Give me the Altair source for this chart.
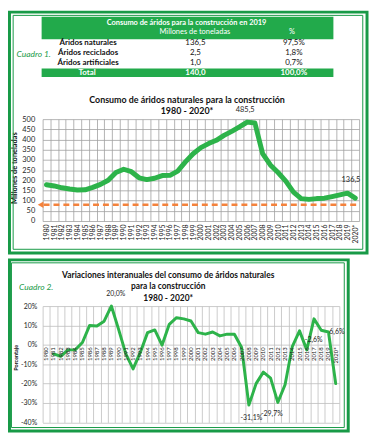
import altair as alt
import pandas as pd

# ---------------- data ----------------
anios = [str(a) for a in range(1980, 2020)] + ["2020*"]

consumo = [178, 172, 163, 157, 152, 153, 165, 180, 200, 238,
           254, 242, 212, 203, 210, 223, 224, 245, 290, 330,
           360, 380, 396, 420, 440, 462, 485.5, 481, 331, 275,
           238, 196, 142, 110, 106, 110, 112, 120, 128, 136.5,
           112]

variacion = [None, -4.7, -5.9, -2.6, -2.6, 1.2, 10.0, 9.7, 12.2, 20.0,
             8.0, -4.7, -12.4, -3.9, 6.3, 7.7, -0.2, 10.6, 14.0, 13.4,
             12.3, 6.3, 5.5, 6.6, 4.6, 5.5, 5.5, -1.4, -31.1, -20.0,
             -14.1, -17.2, -29.7, -20.6, -0.9, 7.2, -2.6, 13.4, 7.5, 6.6,
             -20.0]

nivel_ref = 80

ticks1 = list(range(0, 501, 50))
ticks2 = list(range(-40, 21, 10))

tabla_titulo = "Consumo de áridos para la construcción en 2019"
tabla_cabecera = ["Millones de toneladas", "%"]
tabla_filas = ["Áridos naturales", "Áridos reciclados", "Áridos artificiales"]
tabla_mt = ["136,5", "2,5", "1,0"]
tabla_pct = ["97,5%", "1,8%", "0,7%"]
tabla_total = ["Total", "140,0", "100,0%"]

titulo1 = ["Consumo de áridos naturales para la construcción", "1980 - 2020*"]
titulo2 = ["Variaciones interanuales del consumo de áridos naturales",
           "para la construcción", "1980 - 2020*"]
cuadros = ["Cuadro 1.", "Cuadro 2."]

anot1_anios = ["2006", "2019"]
anot1_valores = [485.5, 136.5]
anot1_textos = ["485,5", "136,5"]

anot2_anios = ["1989", "2008", "2012", "2016", "2019"]
anot2_valores = [20.0, -31.1, -29.7, -2.6, 6.6]
anot2_textos = ["20,0%", "-31,1%", "-29,7%", "-2,6%", "6,6%"]

# ---------------- style ----------------
GREEN_LINE = "#2DB34A"
GREEN_FRAME = "#189A47"
GREEN_HEAD = "#22AA4B"
ORANGE = "#F4823C"
GRID1 = "#A0A0A0"
GRID2 = "#BEBEBE"
TXT = "#262626"
FONT = "Lato"

W1, H1 = 320, 103
W2, H2 = 300, 117.6

df1 = pd.DataFrame({"anio": anios, "consumo": consumo})
df2 = pd.DataFrame({"anio": anios, "variacion": variacion})
one = pd.DataFrame({"k": [0]})

xscale1 = alt.Scale(type="band", domain=anios, paddingInner=0, paddingOuter=0)
yscale1 = alt.Scale(domain=[0, 500], nice=False)
xscale2 = alt.Scale(type="band", domain=anios, paddingInner=0, paddingOuter=0)
yscale2 = alt.Scale(domain=[-40, 20], nice=False, zero=False)

ax_x1 = alt.Axis(labelAngle=270, labelFontSize=7, labelPadding=3, labelColor=TXT,
                 labelOverlap=False, ticks=False, domain=False, grid=True,
                 gridColor=GRID1, gridWidth=0.8, tickBand="extent", title=None)
ax_y1 = alt.Axis(values=ticks1, labelFontSize=7.5, labelPadding=8, labelColor=TXT,
                 ticks=False, domain=False, grid=True, gridColor=GRID1, gridWidth=0.8,
                 title="Millones de toneladas", titleFontSize=7.5, titleFontWeight="bold",
                 titleColor="#111", titleAngle=270, titleAlign="center",
                 titleBaseline="bottom", titleX=-24, titleY=49)
ax_x2 = alt.Axis(labels=False, ticks=False, domain=False, grid=True, gridColor=GRID2,
                 gridWidth=0.8, tickBand="extent", title=None)
ax_y2 = alt.Axis(values=ticks2, labelExpr="datum.value + '%'", labelFontSize=7,
                 labelPadding=6, labelColor=TXT, ticks=False, domain=False, grid=True,
                 gridColor=GRID2, gridWidth=0.8,
                 title="Porcentaje", titleFontSize=5.5, titleFontWeight="bold",
                 titleColor="#111", titleAngle=270, titleAlign="center",
                 titleBaseline="bottom", titleX=-24, titleY=51.8)


def X1():
    return alt.X("anio:N", scale=xscale1, bandPosition=0.5, axis=ax_x1, title=None)


def X2():
    return alt.X("anio:N", scale=xscale2, bandPosition=0.5, axis=ax_x2, title=None)


def frame(x1, y1, x2, y2, w):
    return alt.Chart(one).mark_rect(fillOpacity=0, stroke=GREEN_FRAME, strokeWidth=w).encode(
        x=alt.value(x1), x2=alt.value(x2), y=alt.value(y1), y2=alt.value(y2))


def label(text, x, y, **kw):
    return alt.Chart(one).mark_text(text=text, **kw).encode(x=alt.value(x), y=alt.value(y))


# ---------------- panel 1 ----------------
frame1 = frame(-33.5, -108.2, 328, 135.3, 3) + frame(-29.8, -104.9, 323.7, 131.6, 1)

line1 = alt.Chart(df1).mark_line(color=GREEN_LINE, strokeWidth=5, strokeJoin="round",
                                 strokeCap="round").encode(
    x=X1(), y=alt.Y("consumo:Q", scale=yscale1, axis=ax_y1))

ref_rule = alt.Chart(one).mark_rule(color=ORANGE, strokeWidth=2.5, strokeDash=[6, 4]).encode(
    x=alt.value(1), x2=alt.value(W1), y=alt.YDatum(nivel_ref, scale=yscale1, axis=ax_y1))
ref_arrow = alt.Chart(one).mark_point(shape="triangle-left", filled=True, color=ORANGE,
                                      size=45, opacity=1).encode(
    x=alt.value(-2), y=alt.YDatum(nivel_ref, scale=yscale1, axis=ax_y1))

anot1_df = pd.DataFrame({"anio": anot1_anios, "valor": anot1_valores, "texto": anot1_textos})
anot1_off = [(-2, -12.5), (3.5, -13)]
anot1 = [alt.Chart(anot1_df.iloc[[i]]).mark_text(fontSize=7.5, color=TXT, dx=dx, dy=dy).encode(
    x=X1(), y=alt.Y("valor:Q", scale=yscale1, axis=ax_y1), text="texto:N")
    for i, (dx, dy) in enumerate(anot1_off)]

tit1 = [label(t, 146, y, fontSize=9, fontWeight="bold", color="#111", align="center",
              baseline="middle") for t, y in zip(titulo1, [-19.7, -7.9])]
cuadro1 = label(cuadros[0], -9, -65.7, fontSize=8.5, fontStyle="italic", color=GREEN_FRAME,
                align="center", baseline="middle")

chart1 = alt.layer(frame1, ref_rule, line1, ref_arrow, *anot1, *tit1, cuadro1)

# table (own row scale)
head_rect = alt.Chart(one).mark_rect(color=GREEN_HEAD).encode(
    x=alt.value(-1), x2=alt.value(294), y=alt.value(-103.4), y2=alt.value(-80.7))
tot_rect = alt.Chart(one).mark_rect(color=GREEN_HEAD).encode(
    x=alt.value(-1), x2=alt.value(294), y=alt.value(-51.2), y2=alt.value(-42.5))
head_t = label(tabla_titulo, 145.5, -97.4, fontSize=7.5, fontWeight="bold", color="white",
               align="center", baseline="middle")
head_c = [label(t, x, -87.7, fontSize=7.5, color="white", align="center", baseline="middle")
          for t, x in zip(tabla_cabecera, [154, 252])]

tab_df = pd.DataFrame({"fila": tabla_filas, "mt": tabla_mt, "pct": tabla_pct})
yrows = alt.Y("fila:N", scale=alt.Scale(type="point", domain=tabla_filas,
                                        range=[-76.7, -56.7], padding=0), axis=None)
col_fila = alt.Chart(tab_df).mark_text(fontSize=8, fontWeight="bold", color="#111",
                                       align="center").encode(
    x=alt.value(46), y=yrows, text="fila:N")
col_mt = alt.Chart(tab_df).mark_text(fontSize=8, color="#111", align="center").encode(
    x=alt.value(154.5), y=yrows, text="mt:N")
col_pct = alt.Chart(tab_df).mark_text(fontSize=8, color="#111", align="center").encode(
    x=alt.value(254), y=yrows, text="pct:N")
tot_t = [label(t, x, -46.9, fontSize=8, fontWeight="bold", color="white", align="center",
               baseline="middle") for t, x in zip(tabla_total, [45, 154.5, 254])]

table = alt.layer(head_rect, tot_rect, head_t, *head_c, col_fila, col_mt, col_pct, *tot_t)

panel1 = alt.layer(chart1, table).resolve_scale(y="independent").properties(width=W1, height=H1)

# ---------------- panel 2 ----------------
frame2 = frame(-33.5, -46.7, 309, 126.3, 3) + frame(-31.5, -43.7, 305, 122.8, 1)

line2 = alt.Chart(df2).mark_line(color=GREEN_LINE, strokeWidth=3, strokeJoin="round",
                                 strokeCap="round").encode(
    x=X2(), y=alt.Y("variacion:Q", scale=yscale2, axis=ax_y2))

year_lbl = alt.Chart(df2).mark_text(angle=270, align="right", baseline="middle", dx=-2.5,
                                    fontSize=6, color=TXT).encode(
    x=X2(), y=alt.YDatum(0, scale=yscale2, axis=ax_y2), text="anio:N")

anot2_df = pd.DataFrame({"anio": anot2_anios, "valor": anot2_valores, "texto": anot2_textos})
anot2_off = [(4.5, -12.5), (2.5, 13), (-6, 12), (7, -9.5), (8.5, 0)]
anot2 = [alt.Chart(anot2_df.iloc[[i]]).mark_text(fontSize=7, color=TXT, dx=dx, dy=dy).encode(
    x=X2(), y=alt.Y("valor:Q", scale=yscale2, axis=ax_y2), text="texto:N")
    for i, (dx, dy) in enumerate(anot2_off)]

tit2 = [label(t, 127, y, fontSize=8.5, fontWeight="bold", color="#111", align="center",
              baseline="middle") for t, y in zip(titulo2, [-31.7, -19.9, -8.4])]
cuadro2 = label(cuadros[1], -6.5, -19.7, fontSize=8.5, fontStyle="italic", color=GREEN_FRAME,
                align="center", baseline="middle")

panel2 = alt.layer(frame2, line2, year_lbl, *anot2, *tit2, cuadro2).properties(
    width=W2, height=H2)

chart = alt.vconcat(panel1, panel2, spacing=86, bounds="flush").properties(
    padding=0, background="white"
).configure(font=FONT).configure_view(strokeWidth=0)

chart.save("out.html", embed_options={"renderer": "svg", "actions": False})
